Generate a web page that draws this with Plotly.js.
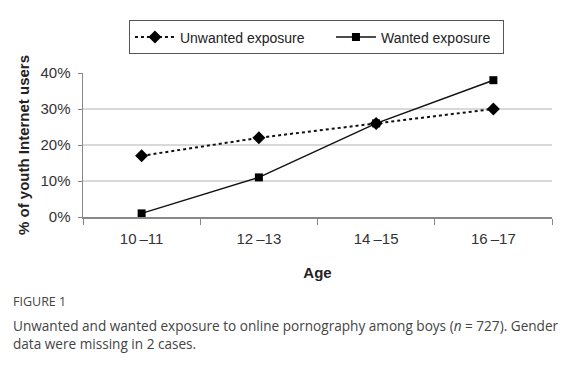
<!DOCTYPE html>
<html>
<head>
<meta charset="utf-8">
<script src="https://cdn.plot.ly/plotly-3.0.1.min.js"></script>
<style>html,body{margin:0;padding:0;background:#fff;}#chart{width:575px;height:374px;}</style>
</head>
<body>
<div id="chart"></div>
<script>
const ageGroups = ["10\u2009\u201311", "12\u2009\u201313", "14\u2009\u201315", "16\u2009\u201317"];
const unwantedExposure = [17, 22, 26, 30];
const wantedExposure = [1, 11, 26, 38];
const yTickVals = [0, 10, 20, 30, 40];
const yTickText = ["0%", "10%", "20%", "30%", "40%"];

const traces = [
  {
    x: ageGroups, y: unwantedExposure, name: "Unwanted exposure",
    type: "scatter", mode: "lines+markers", legendwidth: 146,
    line: {color: "#111", width: 2, dash: "dot"},
    marker: {symbol: "diamond", size: 10, color: "#000"}
  },
  {
    x: ageGroups, y: wantedExposure, name: "Wanted exposure",
    type: "scatter", mode: "lines+markers", legendwidth: 117,
    line: {color: "#111", width: 1.5},
    marker: {symbol: "square", size: 8, color: "#000"}
  }
];

const layout = {
  width: 575, height: 374,
  margin: {l: 83, r: 23, t: 73, b: 157},
  paper_bgcolor: "#fff", plot_bgcolor: "#fff",
  font: {family: "Liberation Sans, Arial, sans-serif", size: 14, color: "#333"},
  showlegend: true,
  legend: {
    orientation: "h", x: 0.098, y: 1.365, xanchor: "left", yanchor: "top",
    bordercolor: "#555", borderwidth: 1, bgcolor: "#fff",
    font: {size: 14, color: "#222"}, itemwidth: 40
  },
  xaxis: {
    type: "category", range: [-0.5, 3.5],
    showline: true, linecolor: "#888", linewidth: 1.5,
    ticks: "outside", tickson: "boundaries", ticklen: 6, tickcolor: "#888",
    ticklabelstandoff: 7,
    showgrid: false, zeroline: false,
    tickfont: {size: 15, color: "#333"},
    title: {text: "<b>Age</b>", font: {size: 15, color: "#222"}, standoff: 22}
  },
  yaxis: {
    range: [0, 40], tickvals: yTickVals, ticktext: yTickText,
    showline: true, linecolor: "#888", linewidth: 1.5,
    ticks: "outside", ticklen: 4, tickcolor: "#888",
    ticklabelstandoff: 4,
    showgrid: true, gridcolor: "#d9d9d9", gridwidth: 1.5, zeroline: false,
    tickfont: {size: 15, color: "#333"},
    title: {text: "<b>% of youth Internet users</b>", font: {size: 15, color: "#222"}, standoff: 7}
  },
  annotations: [
    {xref: "paper", yref: "paper", x: -0.153, y: -0.59, xanchor: "left", yanchor: "middle",
     text: "FIGURE 1", showarrow: false, font: {family: "Open Sans", size: 12.5, color: "#444"}},
    {xref: "paper", yref: "paper", x: -0.153, y: -0.815, xanchor: "left", yanchor: "middle", align: "left",
     text: "Unwanted and wanted exposure to online pornography among boys (<i>n</i> = 727). Gender<br>data were missing in 2 cases.",
     showarrow: false, font: {family: "Open Sans", size: 13.6, color: "#444"}}
  ]
};

Plotly.newPlot("chart", traces, layout, {displayModeBar: false, staticPlot: true});
</script>
</body>
</html>
